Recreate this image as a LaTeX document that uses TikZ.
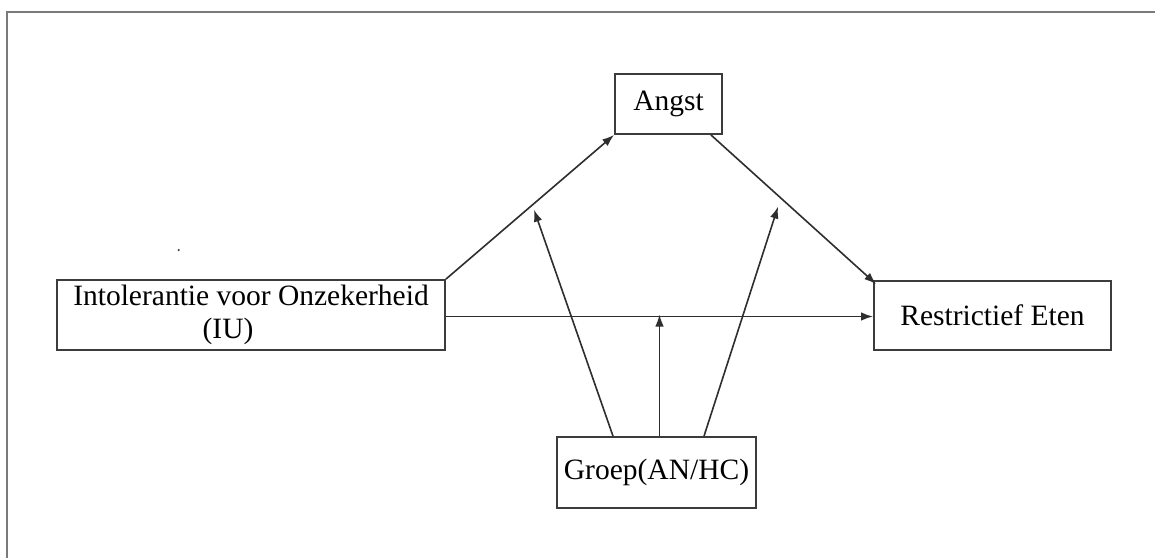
\documentclass[tikz,border=0pt]{standalone}
\usepackage{fontspec}
\setmainfont{Liberation Serif}
\usetikzlibrary{arrows.meta}
\definecolor{framegray}{HTML}{7A7A7A}
\definecolor{boxgray}{HTML}{3C3C3C}
\definecolor{linegray}{HTML}{2E2E2E}
\tikzset{
  varbox/.style={draw=boxgray, line width=1.8pt, fill=white, inner sep=0pt,
    align=center, font=\fontsize{29.5}{33}\selectfont},
  conn/.style={draw=linegray, line width=1.6pt,
    -{Latex[length=12pt,width=8.5pt]}},
}
\begin{document}
\begin{tikzpicture}[x=1pt,y=-1pt]
  \useasboundingbox (0,0) rectangle (1155,557);
  \fill[white] (0,0) rectangle (1155,557);
  % outer frame, running off the page on the right and at the bottom
  \draw[framegray, line width=2pt] (7,570) -- (7,12) -- (1170,12);
  \fill[boxgray] (178.7,250) circle (1.2pt);

  % variables
  \node[varbox, minimum width=388pt, minimum height=70pt] (iu) at (251,315)
    {Intolerantie voor Onzekerheid\\(IU)\hspace*{46pt}};
  \node[varbox, minimum width=107pt, minimum height=60pt] (angst) at (668.5,104) {Angst};
  \node[varbox, minimum width=237pt, minimum height=69pt] (re) at (992.5,315.5) {Restrictief Eten};
  \node[varbox, minimum width=199pt, minimum height=71pt] (groep) at (656.5,472.5) {Groep(AN/HC)};

  % mediation paths
  \draw[conn] (iu.north east) -- (angst.south west);
  \draw[conn] ([xshift=-12pt]angst.south east) -- ([xshift=3pt,yshift=-4pt]re.north west);
  \draw[conn] ([yshift=-1.5pt]iu.east) -- ([yshift=-1pt]re.west);

  % points on the paths that the moderator acts on
  \path (iu.north east) -- (angst.south west) coordinate[pos=0.514] (m1);
  \path ([xshift=-12pt]angst.south east) -- ([xshift=3pt,yshift=-4pt]re.north west) coordinate[pos=0.423] (m2);
  \coordinate (m3) at (groep.north |- re.west);

  % moderation arrows
  \draw[conn, shorten >=5pt] ([xshift=-43.5pt]groep.north) -- (m1);
  \draw[conn] ([xshift=3pt]groep.north) -- ([xshift=3pt,yshift=1pt]m3);
  \draw[conn, shorten >=9pt] ([xshift=47.5pt]groep.north) -- (m2);
\end{tikzpicture}
\end{document}
